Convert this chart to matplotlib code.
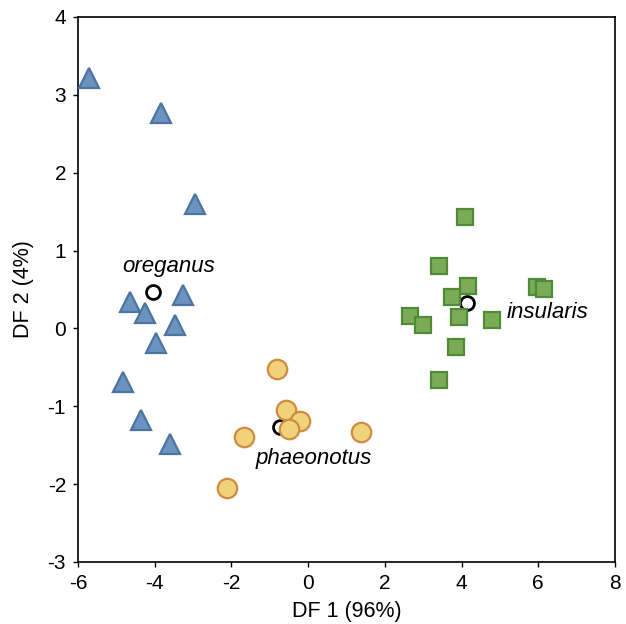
import matplotlib
matplotlib.use("Agg")
import matplotlib.pyplot as plt

plt.rcParams['font.family'] = ['Liberation Sans', 'DejaVu Sans']

# oreganus (triangles)
ore_x = [-5.71, -3.84, -2.95, -4.64, -4.25, -3.26, -3.47, -3.97, -4.83, -4.36, -3.60]
ore_y = [3.22, 2.77, 1.60, 0.34, 0.20, 0.43, 0.04, -0.19, -0.69, -1.18, -1.49]
# phaeonotus (circles)
pha_x = [-0.81, -0.58, -0.21, -0.50, -1.67, 1.38, -2.12]
pha_y = [-0.52, -1.05, -1.19, -1.29, -1.39, -1.33, -2.05]
# insularis (squares)
ins_x = [4.09, 3.41, 4.17, 3.75, 5.97, 6.15, 2.65, 2.99, 3.93, 4.79, 3.85, 3.41]
ins_y = [1.43, 0.80, 0.55, 0.40, 0.53, 0.51, 0.16, 0.04, 0.15, 0.11, -0.24, -0.66]
# group centroids
cen_names = ['oreganus', 'phaeonotus', 'insularis']
cen_x = [-4.04, -0.73, 4.14]
cen_y = [0.47, -1.27, 0.33]
lab_x = [-3.63, 0.15, 6.25]
lab_y = [0.79, -1.67, 0.21]

fig = plt.figure(figsize=(6.26, 6.24), dpi=100)
ax = fig.add_axes([0.1246, 0.0994, 0.8578, 0.8734])

ax.plot(cen_x, cen_y, 'o', ms=10, mfc='white', mec='black', mew=2, zorder=2)
ax.plot(ore_x, ore_y, '^', ms=15, mfc='#6c93c0', mec='#4b74a1', mew=1.6, zorder=3)
ax.plot(pha_x, pha_y, 'o', ms=14, mfc='#f0d27a', mec='#d08a42', mew=1.6, zorder=3)
ax.plot(ins_x, ins_y, 's', ms=11.5, mfc='#7bab57', mec='#4f8a37', mew=1.6, zorder=3)

for name, x, y in zip(cen_names, lab_x, lab_y):
    ax.text(x, y, name, fontsize=16, style='italic', ha='center', va='center')

ax.set_xlim(-6, 8)
ax.set_ylim(-3, 4)
ax.set_xticks(range(-6, 9, 2))
ax.set_yticks(range(-3, 5))
ax.set_xticklabels(['-6', '-4', '-2', '0', '2', '4', '6', '8'])
ax.set_yticklabels(['-3', '-2', '-1', '0', '1', '2', '3', '4'])
ax.tick_params(direction='out', length=3.6, width=1, labelsize=15, pad=5)
for s in ax.spines.values():
    s.set_linewidth(1.2)
ax.set_xlabel('DF 1 (96%)', fontsize=15.5, labelpad=6)
ax.set_ylabel('DF 2 (4%)', fontsize=15.5, labelpad=10)

fig.savefig('out.png', dpi=100)
